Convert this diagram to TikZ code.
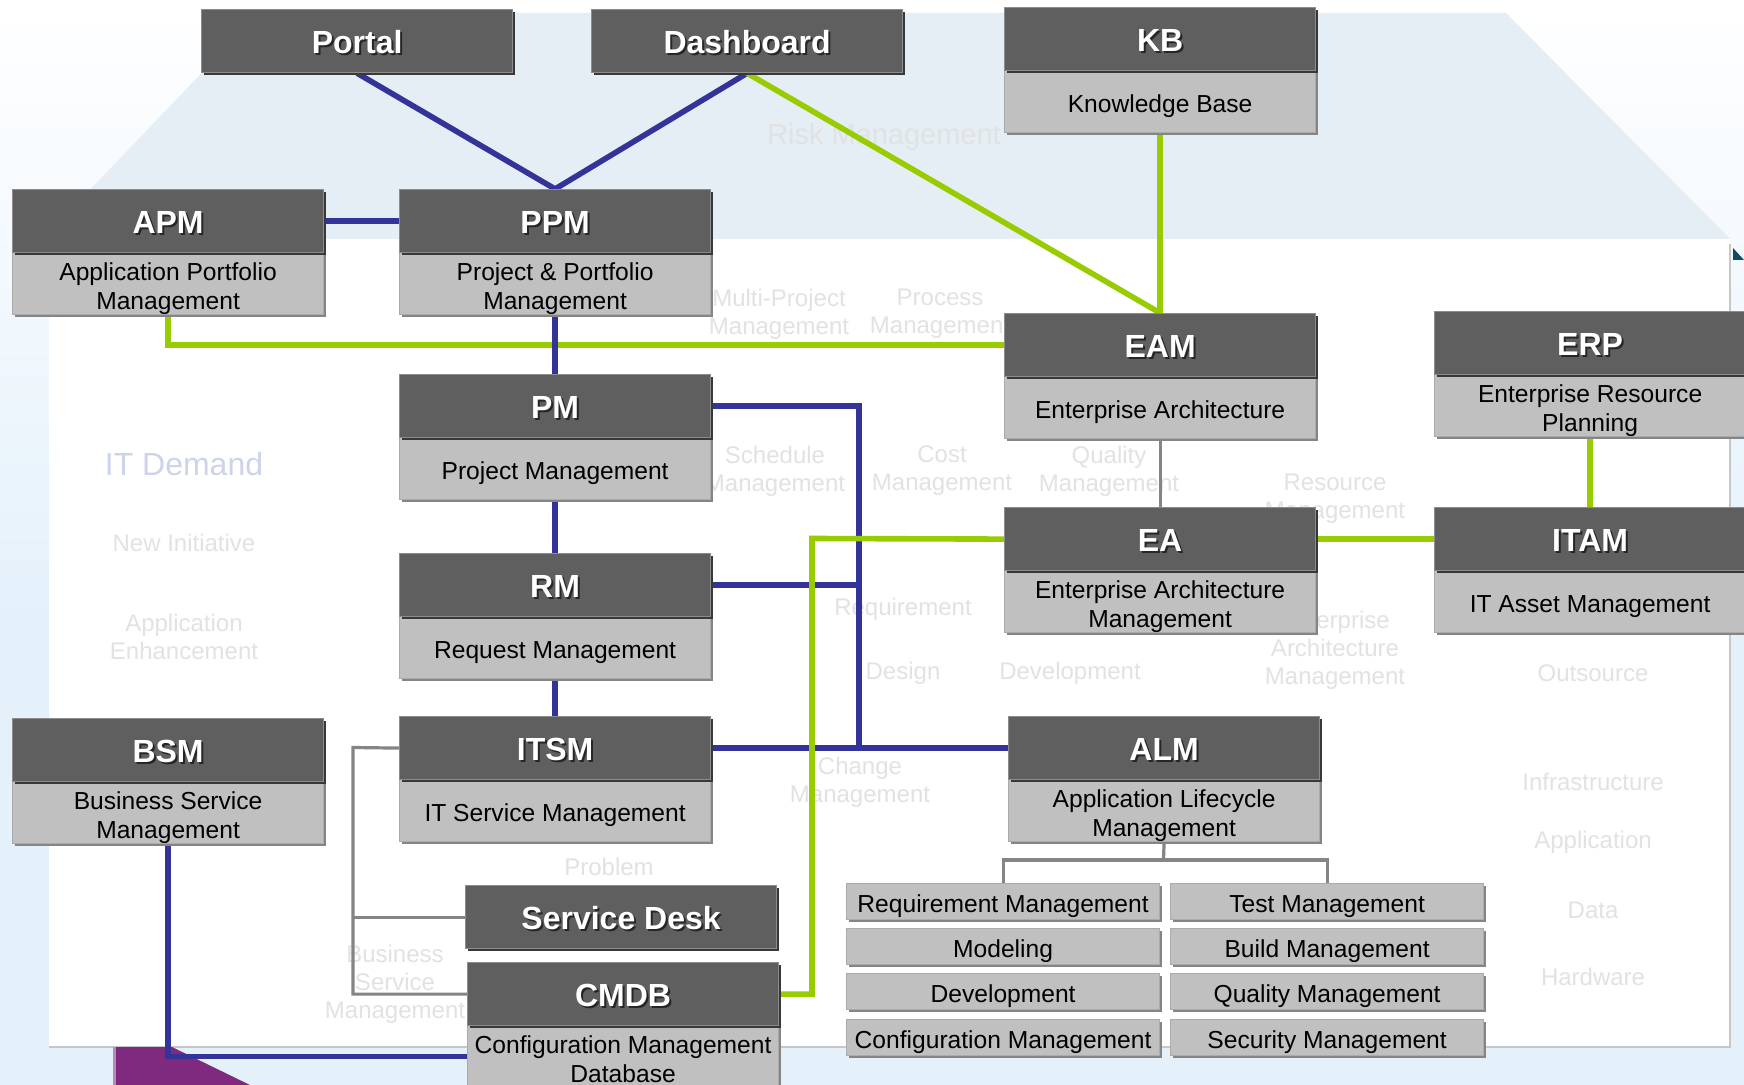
\documentclass[tikz,border=0pt]{standalone}
\usepackage{fontspec}
\setmainfont{Liberation Sans}
\usetikzlibrary{shadows}
\definecolor{dk}{HTML}{5F5F5F}
\definecolor{lt}{HTML}{C0C0C0}
\definecolor{dkedge}{HTML}{8C8C8C}
\definecolor{ltedge}{HTML}{ABABAB}
\definecolor{blu}{HTML}{333399}
\definecolor{grn}{HTML}{99CC00}
\definecolor{gry}{HTML}{858585}
\definecolor{hexfill}{HTML}{E4EEF4}
\definecolor{bgblue}{HTML}{E4F1FB}
\definecolor{purp}{HTML}{7F2A7E}
\definecolor{tealx}{HTML}{0E4C64}
\definecolor{ghost}{HTML}{E2E2E2}
\definecolor{ghostb}{HTML}{CDD3EA}
\newcommand{\shd}[1]{\rlap{\kern1pt\raisebox{-1pt}{\textcolor{black!85}{#1}}}#1}
\pgfdeclarelayer{bg}
\pgfdeclarelayer{lines}
\pgfsetlayers{bg,lines,main}
\begin{document}
\begin{tikzpicture}[x=0.5pt,y=-0.5pt,
  dark/.style={anchor=north west, fill=dk, draw=dkedge, line width=0.6pt,
    minimum width=155.5pt, minimum height=31.5pt, inner sep=0pt, text=white,
    text height=13.2pt, text depth=0.5pt,
    font=\fontsize{16}{18}\selectfont\bfseries,
    drop shadow={shadow xshift=1.4pt, shadow yshift=-1.4pt, fill=black!78, opacity=1}},
  light/.style={anchor=north west, fill=lt, draw=ltedge, line width=0.6pt,
    minimum width=155.5pt, minimum height=31pt, inner sep=0pt,
    drop shadow={shadow xshift=1.4pt, shadow yshift=-1.4pt, fill=black!48, opacity=1}},
  lighttxt/.style={inner sep=0pt, text=black, align=center,
    font=\fontsize{12.3}{14.5}\selectfont},
  subbox/.style={anchor=north west, fill=lt, draw=ltedge, line width=0.6pt,
    minimum width=156.5pt, minimum height=18pt, inner sep=0pt, text=black,
    text height=11pt, text depth=0.5pt,
    font=\fontsize{12.3}{14.5}\selectfont,
    drop shadow={shadow xshift=1.4pt, shadow yshift=-1.4pt, fill=black!48, opacity=1}},
  bl/.style={draw=blu, line width=2.8pt},
  gr/.style={draw=grn, line width=2.8pt},
  gy/.style={draw=gry, line width=1.6pt},
  ghosttxt/.style={text=ghost, font=\fontsize{12}{14}\selectfont, align=center, inner sep=0pt}
]
\useasboundingbox (0,0) rectangle (1744,1085);

% ---------- boxes ----------
\newcommand{\pbox}[6][-2.5pt]{%
  \node[light] (#2s) at (#3,#4+63) {};
  \node[lighttxt] (#2t) at ([yshift=#1]#2s.center) {#6};
  \node[dark] (#2) at (#3,#4) {\shd{#5}};
}
\node[dark] (portal) at (201,9) {\shd{Portal}};
\node[dark] (dash) at (591,9) {\shd{Dashboard}};
\pbox{kb}{1004}{7}{KB}{Knowledge Base}
\pbox{apm}{12}{189}{APM}{Application Portfolio\\Management}
\pbox{ppm}{399}{189}{PPM}{Project \& Portfolio\\Management}
\pbox{eam}{1004}{313}{EAM}{Enterprise Architecture}
\pbox{erp}{1434}{311}{ERP}{Enterprise Resource\\Planning}
\pbox{pm}{399}{374}{PM}{Project Management}
\pbox{ea}{1004}{507}{EA}{Enterprise Architecture\\Management}
\pbox{itam}{1434}{507}{ITAM}{IT Asset Management}
\pbox{rm}{399}{553}{RM}{Request Management}
\pbox{bsm}{12}{718}{BSM}{Business Service\\Management}
\pbox{itsm}{399}{716}{ITSM}{IT Service Management}
\pbox{alm}{1008}{716}{ALM}{Application Lifecycle\\Management}
\node[dark] (sd) at (465,885) {\shd{Service Desk}};
\pbox[-1.2pt]{cmdb}{467}{962}{CMDB}{Configuration Management\\Database}

\node[subbox] (s1) at (846,883) {Requirement Management};
\node[subbox] (s2) at (846,928) {Modeling};
\node[subbox] (s3) at (846,973) {Development};
\node[subbox] (s4) at (846,1019) {Configuration Management};
\node[subbox] (s5) at (1170,883) {Test Management};
\node[subbox] (s6) at (1170,928) {Build Management};
\node[subbox] (s7) at (1170,973) {Quality Management};
\node[subbox] (s8) at (1170,1019) {Security Management};

% ---------- connectors ----------
\coordinate (bj) at (859,747.5);
\coordinate (gj) at (812,538.5);
\coordinate (sj) at (353,747.5);
\coordinate (ab) at (1163.5,860);
\begin{pgfonlayer}{lines}
\draw[bl] (portal.south) -- (ppm.north);
\draw[bl] (dash.south) -- (ppm.north);
\draw[gr] (dash.south) -- (eam.north);
\draw[gr] (kbs.south) -- (eam.north);
\draw[bl] (apm.east) -- (ppm.west);
\draw[gr] (apms.south) |- (eam.west);
\draw[bl] (ppms.south) -- (pm.north);
\draw[bl] (pms.south) -- (rm.north);
\draw[bl] (rms.south) -- (itsm.north);
\draw[bl] (pm.east) -| (bj);
\draw[bl] (rm.east) -- (rm.east -| bj);
\draw[bl] (itsm.east) -- (alm.west);
\draw[gy] (eams.south) -- (ea.north);
\draw[gr] (ea.east) -- (itam.west);
\draw[gr] (erps.south) -- (itam.north);
\draw[gr] (ea.west) -- (gj) |- (cmdb.east);
\draw[gy] (itsm.west) -- (sj) |- (cmdb.west);
\draw[gy] (sj |- sd.west) -- (sd.west);
\draw[bl] (bsms.south) |- (cmdbs.west);
\draw[gy] (alms.south) -- (ab);
\draw[gy] (s1.north) |- (ab) -| (s5.north);
\end{pgfonlayer}

% ---------- background ----------
\begin{pgfonlayer}{bg}
\fill[bgblue] (0,0) rectangle (1744,1085);
\shade[top color=white, bottom color=bgblue] (0,0) rectangle (1744,620);
\fill[hexfill] (259,13) -- (1506,13) -- (1730,239) -- (43,239) -- cycle;
\fill[white] (49,239) rectangle (1730,1047);
\draw[black!22, line width=0.8pt] (49,1047) -- (1730,1047) -- (1730,244);
\fill[purp] (113,1047) -- (172,1047) -- (250,1085) -- (113,1085) -- cycle;
\fill[purp!55!white] (113,1047) rectangle (116,1085);
\fill[tealx] (1733,248) -- (1744,260) -- (1733,260) -- cycle;
% faint watermark texts
\node[ghosttxt, font=\fontsize{14.5}{16}\selectfont] (g1) at (884,137) {Risk Management};
\node[ghosttxt, text=ghostb, font=\fontsize{16}{18}\selectfont] (g2) at (184,464) {IT Demand};
\node[ghosttxt] (g3) at (779,314) {Multi-Project\\Management};
\node[ghosttxt] (g4) at (940,314) {Process\\Management};
\node[ghosttxt] (g5) at (775,471) {Schedule\\Management};
\node[ghosttxt] (g6) at (942,471) {Cost\\Management};
\node[ghosttxt] (g7) at (1109,471) {Quality\\Management};
\node[ghosttxt] (g8) at (903,609) {Requirement};
\node[ghosttxt] (g9) at (903,673) {Design};
\node[ghosttxt] (g10) at (1070,673) {Development};
\node[ghosttxt] (g11) at (860,782) {Change\\Management};
\node[ghosttxt] (g12) at (609,867) {Problem};
\node[ghosttxt] (g13) at (184,543) {New Initiative};
\node[ghosttxt] (g14) at (184,637) {Application\\Enhancement};
\node[ghosttxt] (g15) at (1335,499) {Resource\\Management};
\node[ghosttxt] (g16) at (1335,650) {Enterprise\\Architecture\\Management};
\node[ghosttxt] (g17) at (1593,673) {Outsource};
\node[ghosttxt] (g18) at (1593,782) {Infrastructure};
\node[ghosttxt] (g19) at (1593,842) {Application};
\node[ghosttxt] (g20) at (1593,910) {Data};
\node[ghosttxt] (g21) at (1593,977) {Hardware};
\node[ghosttxt] (g22) at (395,984) {Business\\Service\\Management};
\end{pgfonlayer}
\end{tikzpicture}
\end{document}
